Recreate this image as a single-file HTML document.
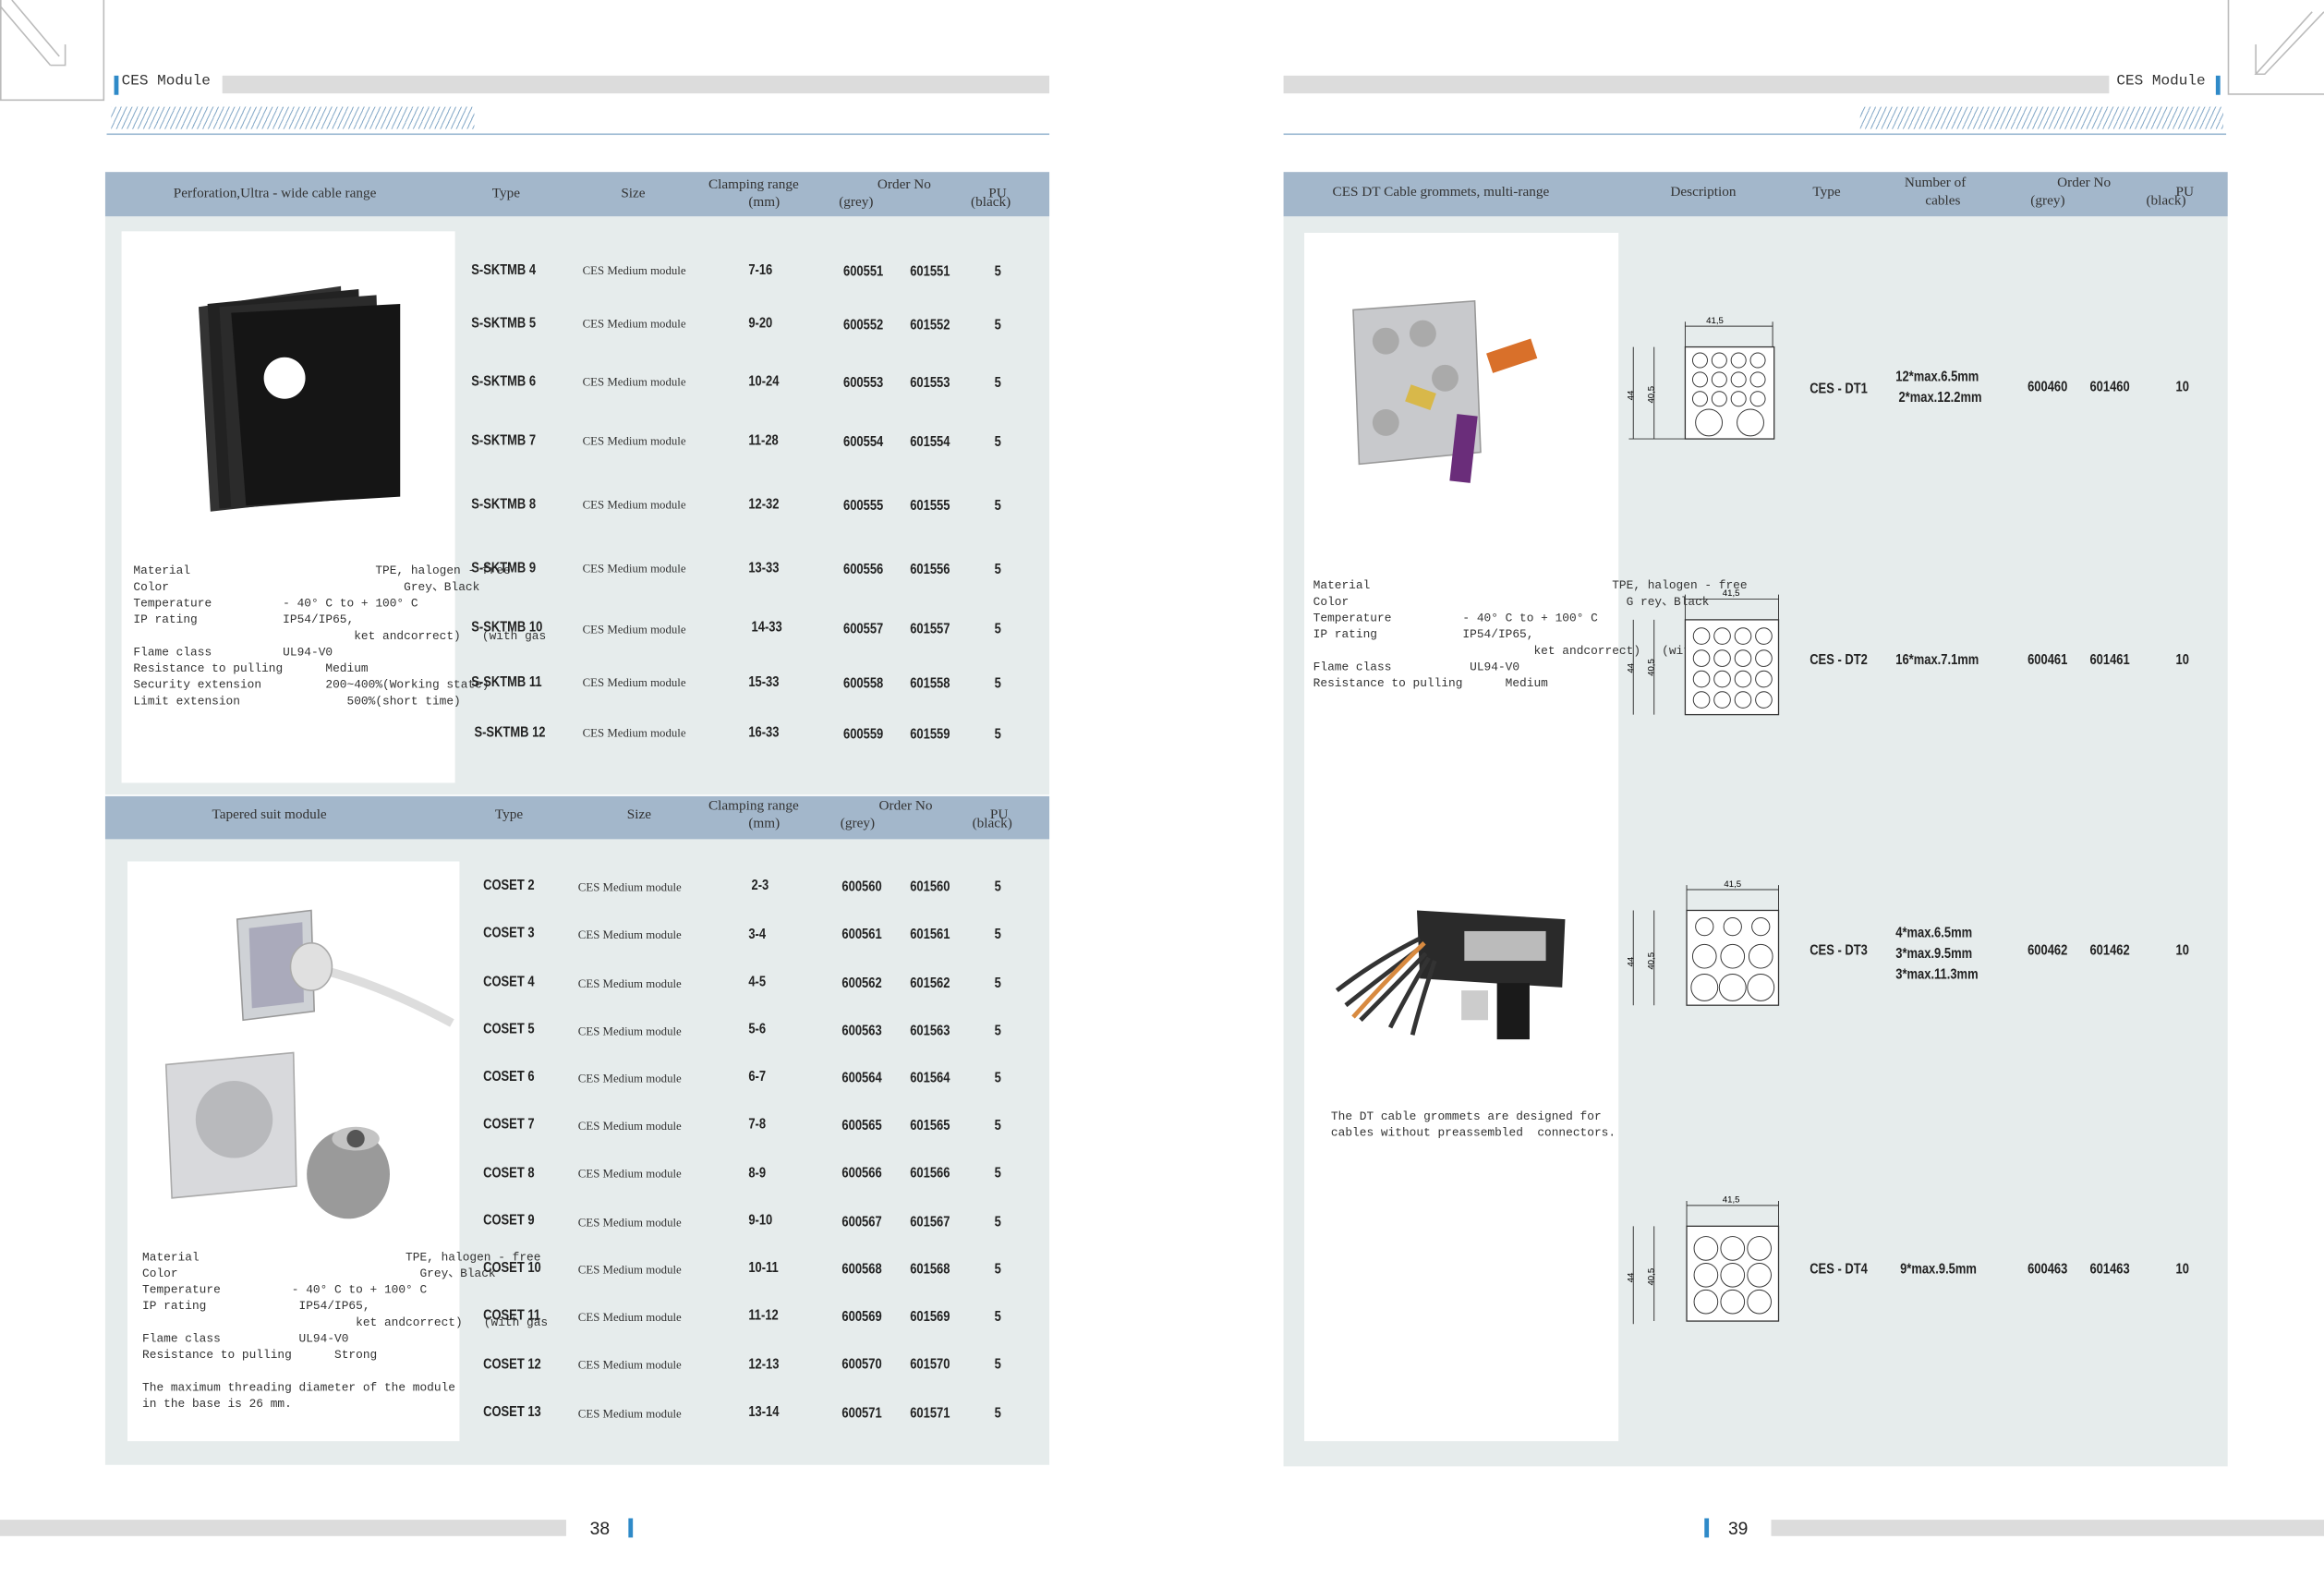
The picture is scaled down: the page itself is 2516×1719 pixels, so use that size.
<!DOCTYPE html>
<html><head><meta charset="utf-8">
<style>
html,body{margin:0;padding:0;background:#fff;width:2516px;height:1719px;overflow:hidden}
#w{position:absolute;left:0;top:0;width:1568px;height:1071px;transform:scale(1.60459,1.6050);transform-origin:0 0;font-family:"Liberation Mono",monospace;color:#222}
.a{position:absolute}
.m{font-family:"Liberation Mono",monospace;font-size:8px;white-space:pre;line-height:11px;color:#333}
.h{font-family:"Liberation Serif",serif;font-size:9.5px;color:#333;white-space:nowrap}
.b{font-family:"Liberation Sans Narrow","Liberation Sans",sans-serif;font-size:9.5px;font-weight:bold;color:#222;white-space:nowrap;transform:scaleX(.85);transform-origin:0 0}
.s{font-family:"Liberation Serif",serif;font-size:8px;color:#333;white-space:nowrap}
.hd{background:#a3b7cb}
.bd{background:#e6ecec}
.wh{background:#fff}
.gb{background:#dcdcdc}
.bl{background:#2f8ac8}
.hatch{background:repeating-linear-gradient(115deg,#fff 0 2.6px,#8fb0cc 2.6px 3.3px)}
</style></head><body><div id="w">

<!-- corners -->
<svg class="a" style="left:0;top:0" width="75" height="72"><path d="M0.5 0 V67.5 H70 V0" fill="none" stroke="#bbb"/><path d="M0 4 L34 44 M8 0 L40 38 M34 44 H44 V30" fill="none" stroke="#bbb"/></svg>
<svg class="a" style="left:1500px;top:0" width="68" height="72"><path d="M3.5 0 V63.5 H68" fill="none" stroke="#bbb"/><path d="M68 8 L28 50 H22 L60 8 M22 50 V30" fill="none" stroke="#bbb"/></svg>

<!-- left header -->
<div class="a bl" style="left:77px;top:51px;width:3px;height:13px"></div>
<div class="a h" style="left:82px;top:50px;font-family:'Liberation Mono',monospace;font-size:10px">CES Module</div>
<div class="a gb" style="left:150px;top:51px;width:558px;height:12px"></div>
<div class="a hatch" style="left:75px;top:72px;width:245px;height:15px"></div>
<div class="a" style="left:72px;top:90px;width:636px;height:1px;background:#9bb9d2"></div>

<!-- right header -->
<div class="a gb" style="left:866px;top:51px;width:557px;height:12px"></div>
<div class="a h" style="left:1428px;top:50px;font-family:'Liberation Mono',monospace;font-size:10px">CES Module</div>
<div class="a bl" style="left:1495px;top:51px;width:3px;height:13px"></div>
<div class="a hatch" style="left:1255px;top:72px;width:245px;height:15px"></div>
<div class="a" style="left:866px;top:90px;width:636px;height:1px;background:#9bb9d2"></div>

<!-- footer -->
<div class="a gb" style="left:0;top:1025px;width:382px;height:11px"></div>
<div class="a" style="left:398px;top:1024px;font-family:'Liberation Sans',sans-serif;font-size:12px">38</div>
<div class="a bl" style="left:424px;top:1024px;width:3px;height:13px"></div>
<div class="a bl" style="left:1150px;top:1024px;width:3px;height:13px"></div>
<div class="a" style="left:1166px;top:1024px;font-family:'Liberation Sans',sans-serif;font-size:12px">39</div>
<div class="a gb" style="left:1195px;top:1025px;width:373px;height:11px"></div>

<!-- LEFT TABLE 1 -->
<div class="a hd" style="left:71px;top:116px;width:637px;height:30px"></div>
<div class="a bd" style="left:71px;top:146px;width:637px;height:390px"></div>
<div class="a wh" style="left:82px;top:156px;width:225px;height:372px"></div>
<div class="a h" style="left:117px;top:126px">Perforation,Ultra - wide  cable  range</div>
<div class="a h" style="left:332px;top:126px">Type</div>
<div class="a h" style="left:419px;top:126px">Size</div>
<div class="a h" style="left:478px;top:120px">Clamping range</div>
<div class="a h" style="left:505px;top:132px">(mm)</div>
<div class="a h" style="left:592px;top:120px">Order No</div>
<div class="a h" style="left:566px;top:132px">(grey)</div>
<div class="a h" style="left:667px;top:126px">PU</div>
<div class="a h" style="left:655px;top:132px">(black)</div>
<!-- black module image -->
<svg class="a" style="left:130px;top:185px" width="150" height="165">
<polygon points="4,22 100,8 104,150 12,160" fill="#333"/>
<polygon points="10,20 112,10 116,150 18,158" fill="#222"/>
<polygon points="18,22 124,14 128,150 26,158" fill="#2b2b2b"/>
<polygon points="26,26 140,20 140,150 36,156" fill="#151515"/>
<circle cx="62" cy="70" r="14" fill="#fff"/>
</svg>
<div class="a m" style="left:90px;top:380px">Material                          TPE, halogen - free
Color                                 Grey、Black
Temperature          - 40° C to + 100° C
IP rating            IP54/IP65,
                               ket andcorrect)   (with gas
Flame class          UL94-V0
Resistance to pulling      Medium
Security extension         200~400%(Working state)
Limit extension               500%(short time)</div>

<!-- rows T1 -->
<div class="a b" style="left:318px;top:177px">S-SKTMB 4</div><div class="a s" style="left:393px;top:178px">CES Medium  module</div><div class="a b" style="left:505px;top:177px">7-16</div><div class="a b" style="left:569px;top:178px">600551</div><div class="a b" style="left:614px;top:178px">601551</div><div class="a b" style="left:671px;top:178px">5</div>
<div class="a b" style="left:318px;top:213px">S-SKTMB 5</div><div class="a s" style="left:393px;top:214px">CES Medium  module</div><div class="a b" style="left:505px;top:213px">9-20</div><div class="a b" style="left:569px;top:214px">600552</div><div class="a b" style="left:614px;top:214px">601552</div><div class="a b" style="left:671px;top:214px">5</div>
<div class="a b" style="left:318px;top:252px">S-SKTMB 6</div><div class="a s" style="left:393px;top:253px">CES Medium  module</div><div class="a b" style="left:505px;top:252px">10-24</div><div class="a b" style="left:569px;top:253px">600553</div><div class="a b" style="left:614px;top:253px">601553</div><div class="a b" style="left:671px;top:253px">5</div>
<div class="a b" style="left:318px;top:292px">S-SKTMB 7</div><div class="a s" style="left:393px;top:293px">CES Medium  module</div><div class="a b" style="left:505px;top:292px">11-28</div><div class="a b" style="left:569px;top:293px">600554</div><div class="a b" style="left:614px;top:293px">601554</div><div class="a b" style="left:671px;top:293px">5</div>
<div class="a b" style="left:318px;top:335px">S-SKTMB 8</div><div class="a s" style="left:393px;top:336px">CES Medium  module</div><div class="a b" style="left:505px;top:335px">12-32</div><div class="a b" style="left:569px;top:336px">600555</div><div class="a b" style="left:614px;top:336px">601555</div><div class="a b" style="left:671px;top:336px">5</div>
<div class="a b" style="left:318px;top:378px">S-SKTMB 9</div><div class="a s" style="left:393px;top:379px">CES Medium module</div><div class="a b" style="left:505px;top:378px">13-33</div><div class="a b" style="left:569px;top:379px">600556</div><div class="a b" style="left:614px;top:379px">601556</div><div class="a b" style="left:671px;top:379px">5</div>
<div class="a b" style="left:318px;top:418px">S-SKTMB 10</div><div class="a s" style="left:393px;top:420px">CES Medium  module</div><div class="a b" style="left:507px;top:418px">14-33</div><div class="a b" style="left:569px;top:419px">600557</div><div class="a b" style="left:614px;top:419px">601557</div><div class="a b" style="left:671px;top:419px">5</div>
<div class="a b" style="left:318px;top:455px">S-SKTMB 11</div><div class="a s" style="left:393px;top:456px">CES Medium  module</div><div class="a b" style="left:505px;top:455px">15-33</div><div class="a b" style="left:569px;top:456px">600558</div><div class="a b" style="left:614px;top:456px">601558</div><div class="a b" style="left:671px;top:456px">5</div>
<div class="a b" style="left:320px;top:489px">S-SKTMB 12</div><div class="a s" style="left:393px;top:490px">CES Medium  module</div><div class="a b" style="left:505px;top:489px">16-33</div><div class="a b" style="left:569px;top:490px">600559</div><div class="a b" style="left:614px;top:490px">601559</div><div class="a b" style="left:671px;top:490px">5</div>

<!-- LEFT TABLE 2 -->
<div class="a hd" style="left:71px;top:537px;width:637px;height:29px"></div>
<div class="a bd" style="left:71px;top:566px;width:637px;height:422px"></div>
<div class="a wh" style="left:86px;top:581px;width:224px;height:391px"></div>
<div class="a h" style="left:143px;top:545px">Tapered suit module</div>
<div class="a h" style="left:334px;top:545px">Type</div>
<div class="a h" style="left:423px;top:545px">Size</div>
<div class="a h" style="left:478px;top:539px">Clamping range</div>
<div class="a h" style="left:505px;top:551px">(mm)</div>
<div class="a h" style="left:593px;top:539px">Order No</div>
<div class="a h" style="left:567px;top:551px">(grey)</div>
<div class="a h" style="left:668px;top:545px">PU</div>
<div class="a h" style="left:656px;top:551px">(black)</div>
<svg class="a" style="left:100px;top:600px" width="210" height="230">
<polygon points="60,20 110,14 112,82 64,88" fill="#cfd2d6" stroke="#999"/>
<polygon points="68,26 104,22 105,76 70,80" fill="#aab"/>
<path d="M100 50 Q150 60 205 90" stroke="#ddd" stroke-width="6" fill="none"/>
<ellipse cx="110" cy="52" rx="14" ry="16" fill="#e0e0e0" stroke="#aaa"/>
<polygon points="12,118 98,110 100,200 16,208" fill="#d8d9dc" stroke="#aaa"/>
<circle cx="58" cy="155" r="26" fill="#b8b9bc"/>
<ellipse cx="135" cy="192" rx="28" ry="30" fill="#9a9a9a"/>
<ellipse cx="140" cy="168" rx="16" ry="8" fill="#c4c4c4"/>
<circle cx="140" cy="168" r="6" fill="#555"/>
</svg>
<div class="a m" style="left:96px;top:843px">Material                             TPE, halogen - free
Color                                  Grey、Black
Temperature          - 40° C to + 100° C
IP rating             IP54/IP65,
                              ket andcorrect)   (with gas
Flame class           UL94-V0
Resistance to pulling      Strong

The maximum threading diameter of the module
in the base is 26 mm.</div>

<div class="a b" style="left:326px;top:592px">COSET 2</div><div class="a s" style="left:390px;top:594px">CES Medium  module</div><div class="a b" style="left:507px;top:592px">2-3</div><div class="a b" style="left:568px;top:593px">600560</div><div class="a b" style="left:614px;top:593px">601560</div><div class="a b" style="left:671px;top:593px">5</div>
<div class="a b" style="left:326px;top:624px">COSET 3</div><div class="a s" style="left:390px;top:626px">CES Medium  module</div><div class="a b" style="left:505px;top:625px">3-4</div><div class="a b" style="left:568px;top:625px">600561</div><div class="a b" style="left:614px;top:625px">601561</div><div class="a b" style="left:671px;top:625px">5</div>
<div class="a b" style="left:326px;top:657px">COSET 4</div><div class="a s" style="left:390px;top:659px">CES Medium  module</div><div class="a b" style="left:505px;top:657px">4-5</div><div class="a b" style="left:568px;top:658px">600562</div><div class="a b" style="left:614px;top:658px">601562</div><div class="a b" style="left:671px;top:658px">5</div>
<div class="a b" style="left:326px;top:689px">COSET 5</div><div class="a s" style="left:390px;top:691px">CES Medium  module</div><div class="a b" style="left:505px;top:689px">5-6</div><div class="a b" style="left:568px;top:690px">600563</div><div class="a b" style="left:614px;top:690px">601563</div><div class="a b" style="left:671px;top:690px">5</div>
<div class="a b" style="left:326px;top:721px">COSET 6</div><div class="a s" style="left:390px;top:723px">CES Medium  module</div><div class="a b" style="left:505px;top:721px">6-7</div><div class="a b" style="left:568px;top:722px">600564</div><div class="a b" style="left:614px;top:722px">601564</div><div class="a b" style="left:671px;top:722px">5</div>
<div class="a b" style="left:326px;top:753px">COSET 7</div><div class="a s" style="left:390px;top:755px">CES Medium  module</div><div class="a b" style="left:505px;top:753px">7-8</div><div class="a b" style="left:568px;top:754px">600565</div><div class="a b" style="left:614px;top:754px">601565</div><div class="a b" style="left:671px;top:754px">5</div>
<div class="a b" style="left:326px;top:786px">COSET 8</div><div class="a s" style="left:390px;top:787px">CES Medium  module</div><div class="a b" style="left:505px;top:786px">8-9</div><div class="a b" style="left:568px;top:786px">600566</div><div class="a b" style="left:614px;top:786px">601566</div><div class="a b" style="left:671px;top:786px">5</div>
<div class="a b" style="left:326px;top:818px">COSET 9</div><div class="a s" style="left:390px;top:820px">CES Medium  module</div><div class="a b" style="left:505px;top:818px">9-10</div><div class="a b" style="left:568px;top:819px">600567</div><div class="a b" style="left:614px;top:819px">601567</div><div class="a b" style="left:671px;top:819px">5</div>
<div class="a b" style="left:326px;top:850px">COSET 10</div><div class="a s" style="left:390px;top:852px">CES Medium  module</div><div class="a b" style="left:505px;top:850px">10-11</div><div class="a b" style="left:568px;top:851px">600568</div><div class="a b" style="left:614px;top:851px">601568</div><div class="a b" style="left:671px;top:851px">5</div>
<div class="a b" style="left:326px;top:882px">COSET 11</div><div class="a s" style="left:390px;top:884px">CES Medium  module</div><div class="a b" style="left:505px;top:882px">11-12</div><div class="a b" style="left:568px;top:883px">600569</div><div class="a b" style="left:614px;top:883px">601569</div><div class="a b" style="left:671px;top:883px">5</div>
<div class="a b" style="left:326px;top:915px">COSET 12</div><div class="a s" style="left:390px;top:916px">CES Medium  module</div><div class="a b" style="left:505px;top:915px">12-13</div><div class="a b" style="left:568px;top:915px">600570</div><div class="a b" style="left:614px;top:915px">601570</div><div class="a b" style="left:671px;top:915px">5</div>
<div class="a b" style="left:326px;top:947px">COSET 13</div><div class="a s" style="left:390px;top:949px">CES Medium  module</div><div class="a b" style="left:505px;top:947px">13-14</div><div class="a b" style="left:568px;top:948px">600571</div><div class="a b" style="left:614px;top:948px">601571</div><div class="a b" style="left:671px;top:948px">5</div>

<!-- RIGHT TABLE -->
<div class="a hd" style="left:866px;top:116px;width:637px;height:30px"></div>
<div class="a bd" style="left:866px;top:146px;width:637px;height:843px"></div>
<div class="a wh" style="left:880px;top:157px;width:212px;height:815px"></div>
<div class="a h" style="left:899px;top:125px">CES DT Cable grommets, multi-range</div>
<div class="a h" style="left:1127px;top:125px">Description</div>
<div class="a h" style="left:1223px;top:125px">Type</div>
<div class="a h" style="left:1285px;top:119px">Number of</div>
<div class="a h" style="left:1299px;top:131px">cables</div>
<div class="a h" style="left:1388px;top:119px">Order No</div>
<div class="a h" style="left:1370px;top:131px">(grey)</div>
<div class="a h" style="left:1468px;top:125px">PU</div>
<div class="a h" style="left:1448px;top:131px">(black)</div>

<svg class="a" style="left:905px;top:195px" width="150" height="140">
<polygon points="8,14 90,8 94,110 12,118" fill="#c8c9cc" stroke="#999"/>
<circle cx="30" cy="35" r="9" fill="#aaa"/><circle cx="55" cy="30" r="9" fill="#aaa"/><circle cx="30" cy="90" r="9" fill="#aaa"/><circle cx="70" cy="60" r="9" fill="#aaa"/>
<path d="M85 85 L80 130" stroke="#6a2d7a" stroke-width="14"/>
<path d="M100 50 L130 40" stroke="#d9702a" stroke-width="14"/>
<path d="M45 70 L62 76" stroke="#d8b84a" stroke-width="12"/>
</svg>
<div class="a m" style="left:886px;top:390px">Material                                  TPE, halogen - free
Color                                       G rey、Black
Temperature          - 40° C to + 100° C
IP rating            IP54/IP65,
                               ket andcorrect)   (with gas
Flame class           UL94-V0
Resistance to pulling      Medium</div>
<svg class="a" style="left:898px;top:608px" width="165" height="100">
<polygon points="58,6 158,12 156,58 60,52" fill="#2a2a2a"/>
<rect x="90" y="20" width="55" height="20" fill="#bbb"/>
<path d="M60 25 Q30 40 4 60 M62 30 Q35 50 10 70 M64 35 Q40 60 20 80 M66 38 Q50 65 40 85 M70 40 Q60 70 55 90" stroke="#333" stroke-width="3" fill="none"/>
<path d="M63 28 Q40 50 15 78" stroke="#d88a40" stroke-width="3" fill="none"/>
<rect x="112" y="55" width="22" height="38" fill="#1a1a1a"/>
<rect x="88" y="60" width="18" height="20" fill="#ccc"/>
</svg>
<div class="a m" style="left:898px;top:748px">The DT cable grommets are designed for
cables without preassembled  connectors.</div>

<!-- drawings -->
<svg class="a" style="left:1096px;top:210px" width="110" height="95">
<text x="61" y="8" font-size="6" font-family="Liberation Sans" text-anchor="middle">41,5</text>
<path d="M41 10 H100 M41 7 V24 M100 7 V24" stroke="#333" stroke-width=".6"/>
<rect x="41" y="24" width="60" height="62" fill="#fff" stroke="#333" stroke-width=".8"/>
<path d="M6 24 V86 M20 24 V86 M3 86 H41" stroke="#333" stroke-width=".6"/>
<text x="0" y="0" font-size="6" font-family="Liberation Sans" transform="translate(6,60) rotate(-90)">44</text>
<text x="0" y="0" font-size="6" font-family="Liberation Sans" transform="translate(20,62) rotate(-90)">40,5</text>
<g fill="none" stroke="#333" stroke-width=".6">
<circle cx="51" cy="33" r="5"/><circle cx="64" cy="33" r="5"/><circle cx="77" cy="33" r="5"/><circle cx="90" cy="33" r="5"/>
<circle cx="51" cy="46" r="5"/><circle cx="64" cy="46" r="5"/><circle cx="77" cy="46" r="5"/><circle cx="90" cy="46" r="5"/>
<circle cx="51" cy="59" r="5"/><circle cx="64" cy="59" r="5"/><circle cx="77" cy="59" r="5"/><circle cx="90" cy="59" r="5"/>
<circle cx="57" cy="75" r="9"/><circle cx="85" cy="75" r="9"/></g></svg>
<div class="a b" style="left:1221px;top:257px">CES - DT1</div>
<div class="a b" style="left:1279px;top:249px">12*max.6.5mm</div>
<div class="a b" style="left:1281px;top:263px">2*max.12.2mm</div>
<div class="a b" style="left:1368px;top:256px">600460</div><div class="a b" style="left:1410px;top:256px">601460</div><div class="a b" style="left:1468px;top:256px">10</div>

<svg class="a" style="left:1096px;top:394px" width="110" height="95">
<text x="72" y="8" font-size="6" font-family="Liberation Sans" text-anchor="middle">41,5</text>
<path d="M41 10 H104 M41 7 V24 M104 7 V24" stroke="#333" stroke-width=".6"/>
<rect x="41" y="24" width="63" height="64" fill="#fff" stroke="#333" stroke-width=".8"/>
<path d="M6 24 V88 M20 24 V88" stroke="#333" stroke-width=".6"/>
<text font-size="6" font-family="Liberation Sans" transform="translate(6,60) rotate(-90)">44</text>
<text font-size="6" font-family="Liberation Sans" transform="translate(20,62) rotate(-90)">40,5</text>
<g fill="none" stroke="#333" stroke-width=".6">
<circle cx="52" cy="35" r="5.5"/><circle cx="66" cy="35" r="5.5"/><circle cx="80" cy="35" r="5.5"/><circle cx="94" cy="35" r="5.5"/>
<circle cx="52" cy="50" r="5.5"/><circle cx="66" cy="50" r="5.5"/><circle cx="80" cy="50" r="5.5"/><circle cx="94" cy="50" r="5.5"/>
<circle cx="52" cy="64" r="5.5"/><circle cx="66" cy="64" r="5.5"/><circle cx="80" cy="64" r="5.5"/><circle cx="94" cy="64" r="5.5"/>
<circle cx="52" cy="78" r="5.5"/><circle cx="66" cy="78" r="5.5"/><circle cx="80" cy="78" r="5.5"/><circle cx="94" cy="78" r="5.5"/></g></svg>
<div class="a b" style="left:1221px;top:440px">CES - DT2</div>
<div class="a b" style="left:1279px;top:440px">16*max.7.1mm</div>
<div class="a b" style="left:1368px;top:440px">600461</div><div class="a b" style="left:1410px;top:440px">601461</div><div class="a b" style="left:1468px;top:440px">10</div>

<svg class="a" style="left:1096px;top:590px" width="110" height="95">
<text x="73" y="8" font-size="6" font-family="Liberation Sans" text-anchor="middle">41,5</text>
<path d="M42 10 H104 M42 7 V24 M104 7 V24" stroke="#333" stroke-width=".6"/>
<rect x="42" y="24" width="62" height="64" fill="#fff" stroke="#333" stroke-width=".8"/>
<path d="M6 24 V88 M20 24 V88" stroke="#333" stroke-width=".6"/>
<text font-size="6" font-family="Liberation Sans" transform="translate(6,62) rotate(-90)">44</text>
<text font-size="6" font-family="Liberation Sans" transform="translate(20,64) rotate(-90)">40,5</text>
<g fill="none" stroke="#333" stroke-width=".6">
<circle cx="54" cy="35" r="6"/><circle cx="73" cy="35" r="6"/><circle cx="92" cy="35" r="6"/>
<circle cx="54" cy="55" r="8"/><circle cx="73" cy="55" r="8"/><circle cx="92" cy="55" r="8"/>
<circle cx="54" cy="76" r="9"/><circle cx="73" cy="76" r="9"/><circle cx="92" cy="76" r="9"/></g></svg>
<div class="a b" style="left:1221px;top:636px">CES - DT3</div>
<div class="a b" style="left:1279px;top:624px">4*max.6.5mm</div>
<div class="a b" style="left:1279px;top:638px">3*max.9.5mm</div>
<div class="a b" style="left:1279px;top:652px">3*max.11.3mm</div>
<div class="a b" style="left:1368px;top:636px">600462</div><div class="a b" style="left:1410px;top:636px">601462</div><div class="a b" style="left:1468px;top:636px">10</div>

<svg class="a" style="left:1096px;top:803px" width="110" height="95">
<text x="72" y="8" font-size="6" font-family="Liberation Sans" text-anchor="middle">41,5</text>
<path d="M42 10 H104 M42 7 V24 M104 7 V24" stroke="#333" stroke-width=".6"/>
<rect x="42" y="24" width="62" height="64" fill="#fff" stroke="#333" stroke-width=".8"/>
<path d="M6 24 V90 M20 24 V88" stroke="#333" stroke-width=".6"/>
<text font-size="6" font-family="Liberation Sans" transform="translate(6,62) rotate(-90)">44</text>
<text font-size="6" font-family="Liberation Sans" transform="translate(20,64) rotate(-90)">40,5</text>
<g fill="none" stroke="#333" stroke-width=".6">
<circle cx="55" cy="39" r="8"/><circle cx="73" cy="39" r="8"/><circle cx="91" cy="39" r="8"/>
<circle cx="55" cy="57" r="8"/><circle cx="73" cy="57" r="8"/><circle cx="91" cy="57" r="8"/>
<circle cx="55" cy="75" r="8"/><circle cx="73" cy="75" r="8"/><circle cx="91" cy="75" r="8"/></g></svg>
<div class="a b" style="left:1221px;top:851px">CES - DT4</div>
<div class="a b" style="left:1282px;top:851px">9*max.9.5mm</div>
<div class="a b" style="left:1368px;top:851px">600463</div><div class="a b" style="left:1410px;top:851px">601463</div><div class="a b" style="left:1468px;top:851px">10</div>

</div></body></html>
